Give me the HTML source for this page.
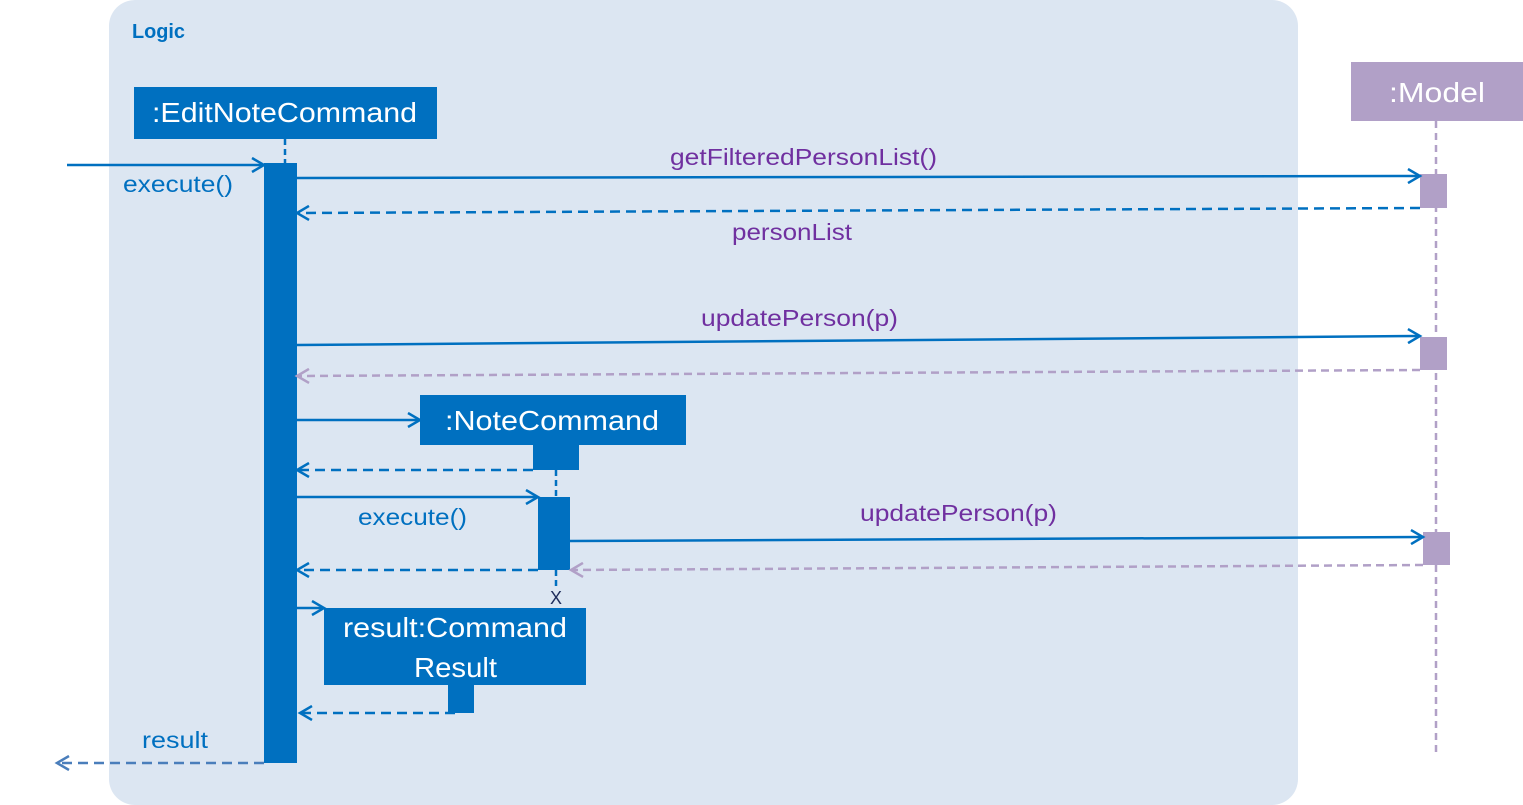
<!DOCTYPE html>
<html><head><meta charset="utf-8"><style>
html,body{margin:0;padding:0;background:#fff;width:1523px;height:805px;overflow:hidden}
svg{display:block}
text{font-family:"Liberation Sans","DejaVu Sans",sans-serif}
</style></head><body>
<svg width="1523" height="805" viewBox="0 0 1523 805" xmlns="http://www.w3.org/2000/svg">
<defs>
<marker id="ab" markerWidth="16" markerHeight="16" refX="13" refY="8" orient="auto" markerUnits="userSpaceOnUse"><path d="M1,1 L13,8 L1,15" fill="none" stroke="#0070c0" stroke-width="2.5"/></marker>
<marker id="ap" markerWidth="16" markerHeight="16" refX="13" refY="8" orient="auto" markerUnits="userSpaceOnUse"><path d="M1,1 L13,8 L1,15" fill="none" stroke="#b1a0c7" stroke-width="2.5"/></marker>
<marker id="al" markerWidth="16" markerHeight="16" refX="13" refY="8" orient="auto" markerUnits="userSpaceOnUse"><path d="M1,1 L13,8 L1,15" fill="none" stroke="#4a7ebb" stroke-width="2.5"/></marker>
</defs>
<rect x="109" y="0" width="1189" height="805" rx="26" fill="#dce6f2"/>
<text x="132" y="38" font-size="20" font-weight="bold" fill="#0070c0" textLength="53" lengthAdjust="spacingAndGlyphs">Logic</text>

<rect x="134" y="87" width="303" height="52" fill="#0070c0"/>
<text x="152" y="122" font-size="28" fill="#fff" textLength="265" lengthAdjust="spacingAndGlyphs">:EditNoteCommand</text>
<line x1="285" y1="139" x2="285" y2="163" stroke="#0070c0" stroke-width="2.5" stroke-dasharray="6,4"/>
<rect x="264" y="163" width="33" height="600" fill="#0070c0"/>

<rect x="1351" y="62" width="172" height="59" fill="#b1a0c7"/>
<text x="1389" y="102" font-size="28" fill="#fff" textLength="96" lengthAdjust="spacingAndGlyphs">:Model</text>
<line x1="1436" y1="121" x2="1436" y2="757" stroke="#b1a0c7" stroke-width="2.5" stroke-dasharray="7,5"/>
<rect x="1420" y="174" width="27" height="34" fill="#b1a0c7"/>
<rect x="1420" y="337" width="27" height="33" fill="#b1a0c7"/>
<rect x="1423" y="532" width="27" height="33" fill="#b1a0c7"/>

<line x1="67" y1="165" x2="264" y2="165" stroke="#0070c0" stroke-width="2.5" marker-end="url(#ab)"/>
<text x="123" y="192" font-size="23" fill="#0070c0" textLength="110" lengthAdjust="spacingAndGlyphs">execute()</text>

<line x1="297" y1="178" x2="1420" y2="176" stroke="#0070c0" stroke-width="2.5" marker-end="url(#ab)"/>
<text x="670" y="165" font-size="23" fill="#7030a0" textLength="267" lengthAdjust="spacingAndGlyphs">getFilteredPersonList()</text>
<line x1="1420" y1="208" x2="297" y2="213" stroke="#0070c0" stroke-width="2.5" stroke-dasharray="10,6" marker-end="url(#ab)"/>
<text x="732" y="240" font-size="23" fill="#7030a0" textLength="120" lengthAdjust="spacingAndGlyphs">personList</text>

<line x1="297" y1="345" x2="1420" y2="336" stroke="#0070c0" stroke-width="2.5" marker-end="url(#ab)"/>
<text x="701" y="326" font-size="23" fill="#7030a0" textLength="197" lengthAdjust="spacingAndGlyphs">updatePerson(p)</text>
<line x1="1420" y1="370" x2="297" y2="376" stroke="#b1a0c7" stroke-width="2.5" stroke-dasharray="8,5" marker-end="url(#ap)"/>

<line x1="297" y1="420" x2="420" y2="420" stroke="#0070c0" stroke-width="2.5" marker-end="url(#ab)"/>
<rect x="420" y="395" width="266" height="50" fill="#0070c0"/>
<text x="445" y="430" font-size="28" fill="#fff" textLength="214" lengthAdjust="spacingAndGlyphs">:NoteCommand</text>
<rect x="533" y="445" width="46" height="25" fill="#0070c0"/>
<line x1="533" y1="470" x2="297" y2="470" stroke="#0070c0" stroke-width="2.5" stroke-dasharray="10,6" marker-end="url(#ab)"/>
<line x1="556" y1="470" x2="556" y2="497" stroke="#0070c0" stroke-width="2.5" stroke-dasharray="6,4"/>
<line x1="297" y1="497" x2="538" y2="497" stroke="#0070c0" stroke-width="2.5" marker-end="url(#ab)"/>
<text x="358" y="525" font-size="23" fill="#0070c0" textLength="109" lengthAdjust="spacingAndGlyphs">execute()</text>
<rect x="538" y="497" width="32" height="73" fill="#0070c0"/>
<line x1="570" y1="541" x2="1423" y2="537" stroke="#0070c0" stroke-width="2.5" marker-end="url(#ab)"/>
<text x="860" y="521" font-size="23" fill="#7030a0" textLength="197" lengthAdjust="spacingAndGlyphs">updatePerson(p)</text>
<line x1="1423" y1="565" x2="571" y2="570" stroke="#b1a0c7" stroke-width="2.5" stroke-dasharray="8,5" marker-end="url(#ap)"/>
<line x1="538" y1="570" x2="297" y2="570" stroke="#0070c0" stroke-width="2.5" stroke-dasharray="10,6" marker-end="url(#ab)"/>
<line x1="556" y1="570" x2="556" y2="590" stroke="#0070c0" stroke-width="2.5" stroke-dasharray="6,4"/>
<text x="556" y="604" font-size="18" fill="#1f2d5c" text-anchor="middle">X</text>

<line x1="297" y1="608" x2="324" y2="608" stroke="#0070c0" stroke-width="2.5" marker-end="url(#ab)"/>
<rect x="324" y="608" width="262" height="77" fill="#0070c0"/>
<text x="343" y="637" font-size="28" fill="#fff" textLength="224" lengthAdjust="spacingAndGlyphs">result:Command</text>
<text x="414" y="677" font-size="28" fill="#fff" textLength="83" lengthAdjust="spacingAndGlyphs">Result</text>
<rect x="448" y="685" width="26" height="28" fill="#0070c0"/>
<line x1="455" y1="713" x2="300" y2="713" stroke="#0070c0" stroke-width="2.5" stroke-dasharray="10,6" marker-end="url(#ab)"/>

<line x1="264" y1="763" x2="57" y2="763" stroke="#4a7ebb" stroke-width="2.5" stroke-dasharray="10,6" marker-end="url(#al)"/>
<text x="142" y="748" font-size="23" fill="#0070c0" textLength="66" lengthAdjust="spacingAndGlyphs">result</text>
</svg>
</body></html>
